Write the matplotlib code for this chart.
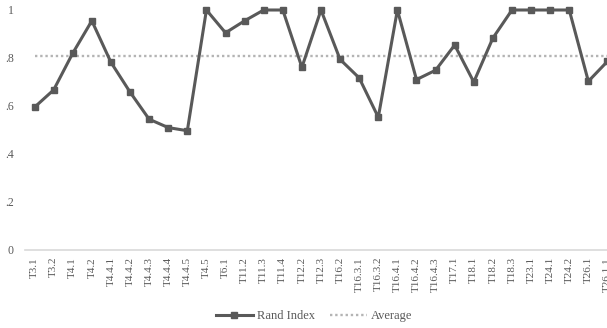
import matplotlib.pyplot as plt
import numpy as np

# task labels along the x axis
tasks = ['T3.1', 'T3.2', 'T4.1', 'T4.2', 'T4.4.1', 'T4.4.2', 'T4.4.3', 'T4.4.4',
         'T4.4.5', 'T4.5', 'T6.1', 'T11.2', 'T11.3', 'T11.4', 'T12.2', 'T12.3',
         'T16.2', 'T16.3.1', 'T16.3.2', 'T16.4.1', 'T16.4.2', 'T16.4.3', 'T17.1',
         'T18.1', 'T18.2', 'T18.3', 'T23.1', 'T24.1', 'T24.2', 'T26.1', 'T26.1.1']

# rand index per task
rand_index = [0.595, 0.667, 0.82, 0.955, 0.782, 0.658, 0.545, 0.51,
              0.497, 1.0, 0.905, 0.955, 1.0, 1.0, 0.761, 1.0,
              0.794, 0.717, 0.553, 1.0, 0.71, 0.749, 0.854,
              0.70, 0.883, 1.0, 1.0, 1.0, 1.0, 0.703, 0.786]

y_ticks = [0, 0.2, 0.4, 0.6, 0.8, 1.0]
y_tick_labels = ['0', '.2', '.4', '.6', '.8', '1']

plt.rcParams['font.family'] = ['Liberation Serif', 'DejaVu Serif']

text_color = '#595959'
line_color = '#595959'

fig = plt.figure(figsize=(6.07, 3.28), dpi=100)
ax = fig.add_axes([25 / 607, 78 / 328, 592 / 607, 240 / 328])

x = np.arange(len(tasks))
average = np.mean(rand_index)

ax.plot(x, [average] * len(x), color='#b4b4b4', linestyle=(0, (1, 1.2)),
        linewidth=1.7, label='Average', zorder=2)
ax.plot(x, rand_index, color=line_color, linewidth=2.2, marker='s',
        markersize=4.6, label='Rand Index', clip_on=False, zorder=3)

ax.set_xlim(-0.5, len(tasks) - 0.5)
ax.set_ylim(0, 1)
ax.set_xticks(x)
ax.set_xticklabels(tasks, rotation=90, fontsize=8, color=text_color)
ax.set_yticks(y_ticks)
ax.set_yticklabels(y_tick_labels, fontsize=8.5, color=text_color)
ax.tick_params(axis='both', length=0)
ax.tick_params(axis='y', pad=8)
ax.tick_params(axis='x', pad=5)

for side in ['top', 'right', 'left']:
    ax.spines[side].set_visible(False)
ax.spines['bottom'].set_color('#d9d9d9')
ax.spines['bottom'].set_linewidth(1.2)

handles, labels = ax.get_legend_handles_labels()
leg = fig.legend(handles[::-1], labels[::-1], loc='center', ncol=2,
                 bbox_to_anchor=(314 / 607, 12 / 328), frameon=False, fontsize=9,
                 handlelength=3.0, columnspacing=1.2, handletextpad=0.3)
for t in leg.get_texts():
    t.set_color(text_color)

fig.savefig('out.png', dpi=100)
